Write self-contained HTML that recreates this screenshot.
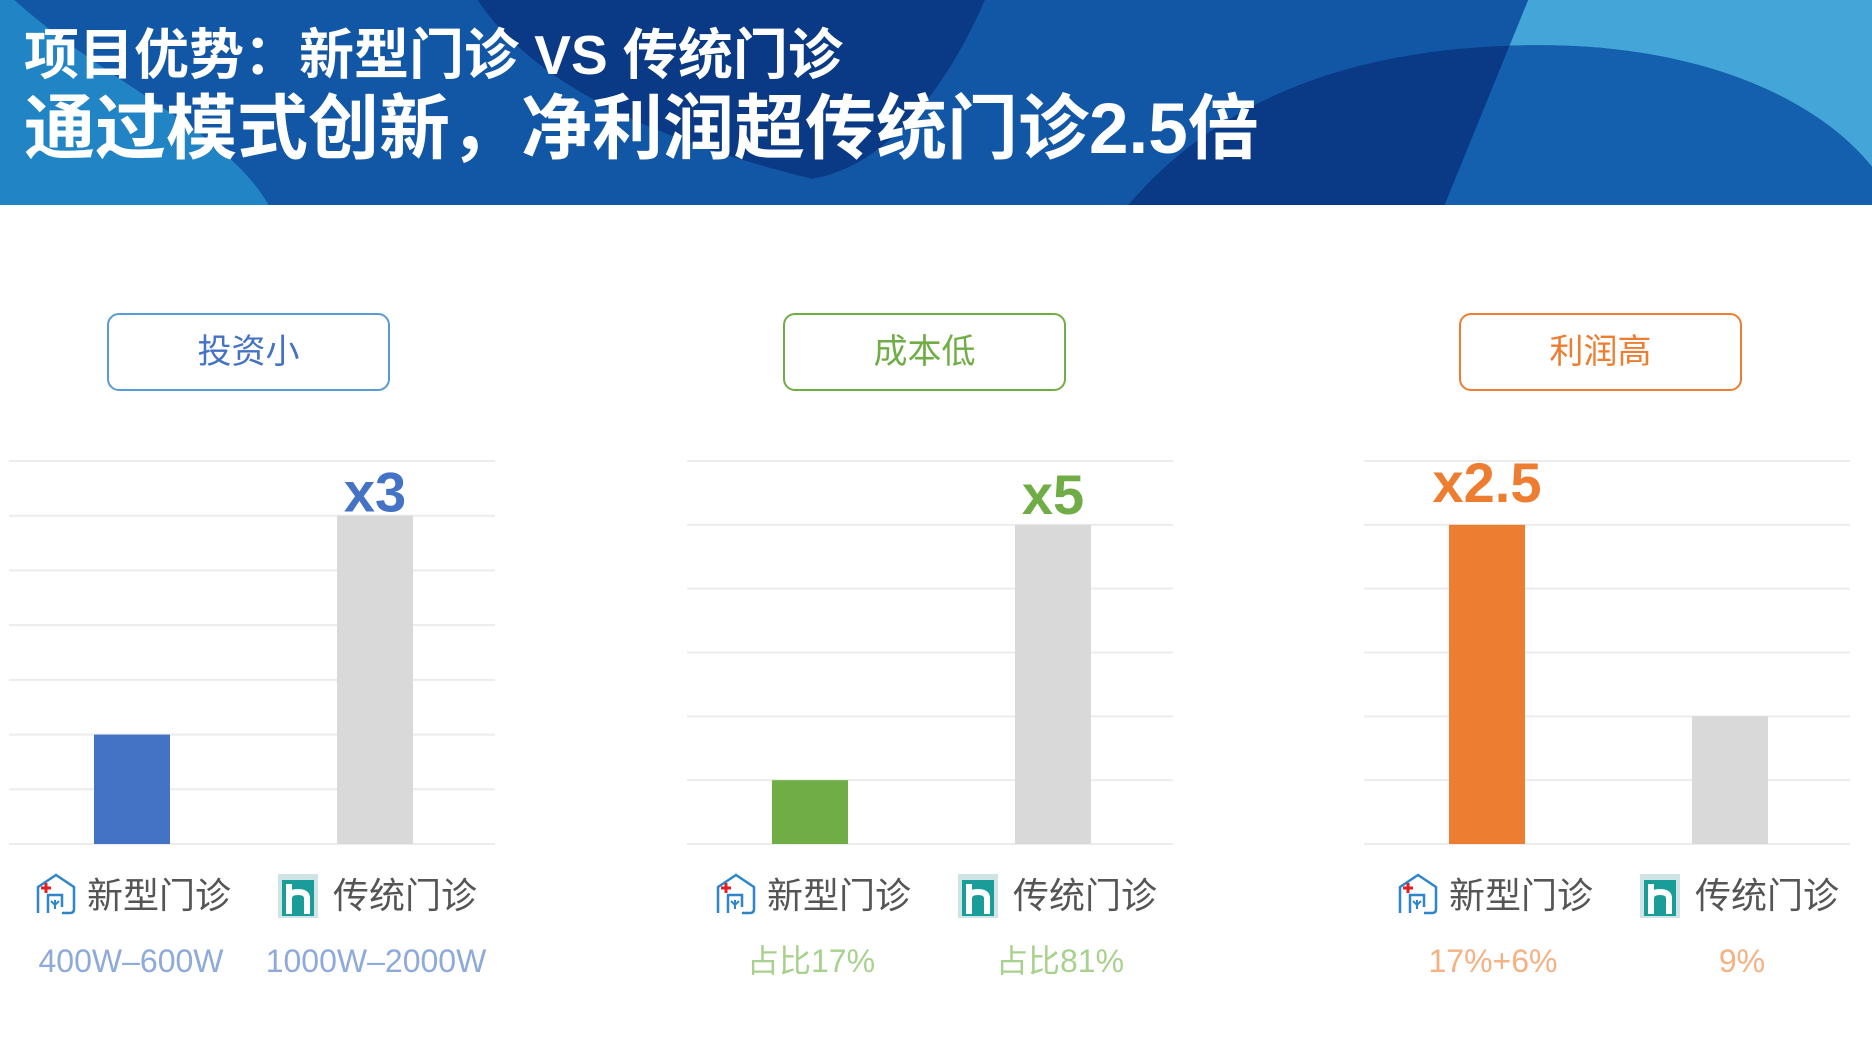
<!DOCTYPE html>
<html><head><meta charset="utf-8"><style>
*{margin:0;padding:0;box-sizing:border-box}
body{width:1872px;height:1040px;background:#fff;position:relative;overflow:hidden;font-family:"Liberation Sans","Noto Sans CJK SC",sans-serif}
.hdr{position:absolute;left:0;top:0;width:1872px;height:205px}
.t1,.t2{position:absolute;left:24px;color:#fff;font-weight:bold;white-space:nowrap;font-family:"Liberation Sans","Noto Sans CJK SC",sans-serif}
.t1{top:10px;font-size:55px}
.t2{top:72px;font-size:71px}
.btn{position:absolute;top:313px;width:283px;height:78px;border:2px solid;border-radius:12px;background:#fff;font-size:34px;text-align:center;line-height:74px}
</style></head><body>
<svg class="hdr" viewBox="0 0 1568 172" preserveAspectRatio="none">
<defs><clipPath id="rc"><polygon points="1280,0 1568,0 1568,172 1210,172"/></clipPath></defs>
<rect width="1568" height="172" fill="#1257a6"/>
<path d="M0,0 L12,0 C90,70 190,110 225,172 L0,172Z" fill="#2185c5"/>
<path d="M400,0 L825,0 C790,80 740,140 680,150 C600,130 460,90 400,0Z" fill="#0a3a86"/>
<polygon points="1280,0 1568,0 1568,172 1210,172" fill="#44a5d8"/>
<path d="M945,172 C1040,60 1180,38 1290,38 C1420,38 1520,80 1568,140 L1568,172Z" fill="#0a3a86"/>
<path d="M945,172 C1040,60 1180,38 1290,38 C1420,38 1520,80 1568,140 L1568,172Z" fill="#1560ae" clip-path="url(#rc)"/>
</svg>
<div class="t1">项目优势：新型门诊 VS 传统门诊</div>
<div class="t2">通过模式创新，净利润超传统门诊2.5倍</div>
<div class="btn" style="left:107px;border-color:#5b9bd5;color:#4472c4">投资小</div>
<div class="btn" style="left:783px;border-color:#70ad47;color:#70ad47">成本低</div>
<div class="btn" style="left:1459px;border-color:#ed7d31;color:#ed7d31">利润高</div>
<svg id="charts" width="1872" height="1040" style="position:absolute;left:0;top:0"></svg>
<script>
const panelNames=['invest','cost','profit'];
const gridMax=[7,6,6];
const newValues=[2,1,5];
const oldValues=[6,5,2];
const multLabels=['x3','x5','x2.5'];
const multOnNew=[false,false,true];
const subNew=['400W–600W','占比17%','17%+6%'];
const subOld=['1000W–2000W','占比81%','9%'];
const mainColors=['#4472c4','#70ad47','#ed7d31'];
const subColors=['#8eaadb','#a9d18e','#f4b183'];
const NS='http://www.w3.org/2000/svg';
const svg=document.getElementById('charts');
function mk(t,a,p){const e=document.createElementNS(NS,t);for(const k in a)e.setAttribute(k,a[k]);(p||svg).appendChild(e);return e;}
const base=844,top0=461;
panelNames.forEach((n,i)=>{
  const ox=i===0?0:(i===1?678:1355);
  const lx=ox+(i===2?7:(i===1?2:0));
  const y=v=>base-(base-top0)*v/gridMax[i];
  const g=mk('g',{});
  
  
  for(let k=0;k<=gridMax[i];k++){
    const l=mk('line',{x1:ox+9,x2:ox+495,y1:y(k),y2:y(k),stroke:'#ececec','stroke-width':2},g);
    
    
  }
  const b1=mk('rect',{x:ox+94,width:76,y:y(newValues[i]),height:base-y(newValues[i]),fill:mainColors[i]},g);
  
  
  const b2=mk('rect',{x:ox+337,width:76,y:y(oldValues[i]),height:base-y(oldValues[i]),fill:'#d9d9d9'},g);
  
  
  const onNew=multOnNew[i];
  const cx=onNew?ox+132:ox+375;
  const v=onNew?newValues[i]:oldValues[i];
  const t=mk('text',{x:cx,y:y(v)-(onNew?23:(i===1?11:4)),'text-anchor':'middle','font-size':56,'font-weight':'bold',fill:mainColors[i],'font-family':'Liberation Sans, sans-serif'},g);
  t.textContent=multLabels[i];
  
  
  const ic=mk('g',{transform:`translate(${lx+36},${873})`},g);
  
  
  mk('path',{d:'M2,40 L2,14 L20,2 L38,14 L38,36 Q38,40 34,40 L26,40 M12,40 L12,22 L26,22 L26,34','fill':'none',stroke:'#2e86c9','stroke-width':2.5},ic);
  mk('path',{d:'M19,36 L19,27 M15,28 L19,32 L23,28','fill':'none',stroke:'#2e86c9','stroke-width':2},ic);
  mk('path',{d:'M10,10 L10,20 M5,15 L15,15','stroke':'#e02020','stroke-width':3},ic);
  const t1=mk('text',{x:lx+87,y:908,'font-size':36,fill:'#555'},g);
  t1.textContent='新型门诊';
  
  
  const ic2=mk('g',{transform:`translate(${lx+278},${874})`},g);
  
  
  mk('rect',{x:0,y:0,width:40,height:44,fill:'#cfe5e5'},ic2);
  mk('rect',{x:4,y:6,width:32,height:36,fill:'#1a9c98'},ic2);
  mk('path',{d:'M11,10 L11,40 M11,24 Q11,18 20,18 Q29,18 29,24 L29,40',fill:'none',stroke:'#fff','stroke-width':6},ic2);
  const t2=mk('text',{x:lx+333,y:908,'font-size':36,fill:'#555'},g);
  t2.textContent='传统门诊';
  
  
  const s1=mk('text',{x:lx+131,y:972,'text-anchor':'middle','font-size':32,fill:subColors[i]},g);
  s1.textContent=subNew[i];
  
  
  const s2=mk('text',{x:lx+(i===0?376:380),y:972,'text-anchor':'middle','font-size':32,fill:subColors[i]},g);
  s2.textContent=subOld[i];
  
  
});
</script>
</body></html>
